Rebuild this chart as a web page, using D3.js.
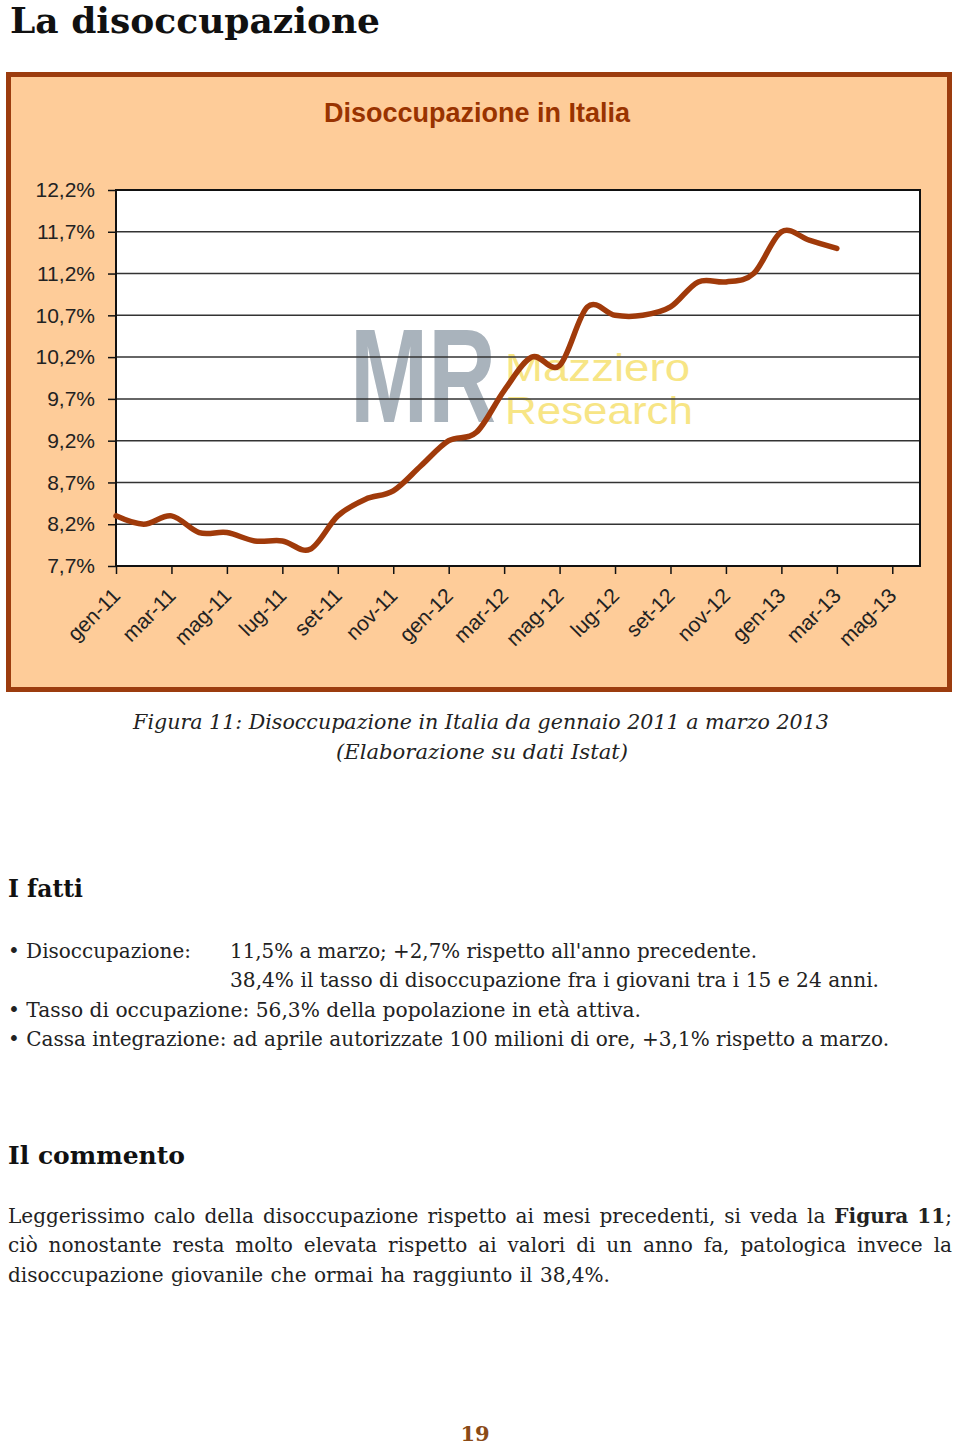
<!DOCTYPE html>
<html><head><meta charset="utf-8">
<script src="https://cdn.jsdelivr.net/npm/d3@7"></script>
<style>html,body{margin:0;padding:0;background:#fff;}svg{display:block;}</style>
</head><body>
<svg id="page" width="960" height="1450"></svg>
<script>
// ---- data ----
const months = ["gen-11","feb-11","mar-11","apr-11","mag-11","giu-11","lug-11","ago-11","set-11","ott-11","nov-11","dic-11",
  "gen-12","feb-12","mar-12","apr-12","mag-12","giu-12","lug-12","ago-12","set-12","ott-12","nov-12","dic-12",
  "gen-13","feb-13","mar-13","apr-13","mag-13","giu-13"];
const unemployment = [8.3, 8.2, 8.3, 8.1, 8.1, 8.0, 8.0, 7.9, 8.3, 8.5, 8.6, 8.9,
  9.2, 9.3, 9.8, 10.2, 10.1, 10.8, 10.7, 10.7, 10.8, 11.1, 11.1, 11.2,
  11.7, 11.6, 11.5];
const xTickLabels = ["gen-11","mar-11","mag-11","lug-11","set-11","nov-11","gen-12","mar-12","mag-12","lug-12","set-12","nov-12","gen-13","mar-13","mag-13"];
const yTickValues = [7.7, 8.2, 8.7, 9.2, 9.7, 10.2, 10.7, 11.2, 11.7, 12.2];
const yTickLabels = ["7,7%","8,2%","8,7%","9,2%","9,7%","10,2%","10,7%","11,2%","11,7%","12,2%"];

const pageTitle = "La disoccupazione";
const chartTitle = "Disoccupazione in Italia";
const captionLines = ["Figura 11: Disoccupazione in Italia da gennaio 2011 a marzo 2013", "(Elaborazione su dati Istat)"];

const svg = d3.select("#page");
const SERIF = "'DejaVu Serif', 'Liberation Serif', serif";
const SANS = "'Liberation Sans', Arial, sans-serif";

function fitWidth(sel, w) {
  const len = sel.node().getComputedTextLength();
  const fs = parseFloat(sel.attr("font-size"));
  sel.attr("font-size", (fs * w / len).toFixed(2));
  return sel;
}
function stretch(sel, w) {
  sel.attr("textLength", w).attr("lengthAdjust", "spacingAndGlyphs");
  return sel;
}

// ---- page title ----
const t0 = svg.append("text").attr("x", 10).attr("y", 33).attr("font-family", SERIF)
  .attr("font-weight", "bold").attr("font-size", 40).attr("fill", "#111").text(pageTitle);
fitWidth(t0, 370);

// ---- chart box ----
svg.append("rect").attr("x", 8.5).attr("y", 74.5).attr("width", 941).attr("height", 615)
  .attr("fill", "#fecc99").attr("stroke", "#9c3c0e").attr("stroke-width", 5);

const ct = svg.append("text").attr("x", 477).attr("y", 122).attr("text-anchor", "middle")
  .attr("font-family", SANS).attr("font-weight", "bold").attr("font-size", 26)
  .attr("fill", "#993300").text(chartTitle);
fitWidth(ct, 306);

// ---- plot ----
const L = 116, R = 920, T = 190, B = 566;
const x = d3.scaleLinear().domain([0, months.length - 1]).range([L, R]);
const y = d3.scaleLinear().domain([7.7, 12.2]).range([B, T]);

svg.append("rect").attr("x", L).attr("y", T).attr("width", R - L).attr("height", B - T).attr("fill", "#fff");

// watermark
const wm = svg.append("g");
const mr = wm.append("text").attr("font-family", SANS).attr("font-weight", "bold")
  .attr("font-size", 133).attr("fill", "#a9b3bc").text("MR");
const mrLen = mr.node().getComputedTextLength();
mr.attr("transform", `translate(350,422) scale(${(146 / mrLen).toFixed(3)},1)`);
const wm1 = wm.append("text").attr("x", 505).attr("y", 381).attr("font-family", SANS).attr("font-size", 39)
  .attr("fill", "#f6e170").attr("opacity", 0.85).text("Mazziero");
stretch(wm1, 185);
const wm2 = wm.append("text").attr("x", 505).attr("y", 424).attr("font-family", SANS).attr("font-size", 39)
  .attr("fill", "#f6e170").attr("opacity", 0.85).text("Research");
stretch(wm2, 188);

// gridlines
svg.append("g").selectAll("line").data(yTickValues.slice(1)).join("line")
  .attr("x1", L).attr("x2", R).attr("y1", d => y(d)).attr("y2", d => y(d))
  .attr("stroke", "#333").attr("stroke-width", 1.5);

// y axis
const yAxis = d3.axisLeft(y).tickValues(yTickValues).tickSize(8).tickPadding(12)
  .tickFormat((d, i) => yTickLabels[i]);
const gy = svg.append("g").attr("transform", `translate(${L},0)`).call(yAxis);
gy.select(".domain").remove();
gy.selectAll(".tick line").attr("stroke", "#111").attr("stroke-width", 1.5);
gy.selectAll(".tick text").attr("font-family", SANS).attr("font-size", 21).attr("fill", "#222").attr("x", -21);

// x axis
const xTickIdx = xTickLabels.map(l => months.indexOf(l));
const xAxis = d3.axisBottom(x).tickValues(xTickIdx).tickSize(8).tickFormat((d, i) => xTickLabels[i]);
const gx = svg.append("g").attr("transform", `translate(0,${B})`).call(xAxis);
gx.select(".domain").remove();
gx.selectAll(".tick line").attr("stroke", "#111").attr("stroke-width", 1.5);
gx.selectAll(".tick text").attr("font-family", SANS).attr("font-size", 21).attr("fill", "#222")
  .attr("text-anchor", "end").attr("dy", 0).attr("y", 0)
  .attr("transform", "translate(5,31) rotate(-45)");

// plot border
svg.append("rect").attr("x", L).attr("y", T).attr("width", R - L).attr("height", B - T)
  .attr("fill", "none").attr("stroke", "#111").attr("stroke-width", 2);

// data line
const line = d3.line().x((d, i) => x(i)).y(d => y(d)).curve(d3.curveCardinal.tension(0));
svg.append("path").datum(unemployment).attr("d", line).attr("fill", "none")
  .attr("stroke", "#a03a0a").attr("stroke-width", 5.5).attr("stroke-linecap", "round").attr("stroke-linejoin", "round");

// ---- caption ----
const cap1 = svg.append("text").attr("x", 481).attr("y", 729).attr("text-anchor", "middle").attr("font-family", SERIF)
  .attr("font-style", "italic").attr("font-size", 21).attr("fill", "#222").text(captionLines[0]);
fitWidth(cap1, 696);
const cap2 = svg.append("text").attr("x", 482).attr("y", 759).attr("text-anchor", "middle").attr("font-family", SERIF)
  .attr("font-style", "italic").attr("font-size", cap1.attr("font-size")).attr("fill", "#222").text(captionLines[1]);
stretch(cap2, 292);

// ---- headings ----
const h1 = svg.append("text").attr("x", 8).attr("y", 897).attr("font-family", SERIF).attr("font-weight", "bold")
  .attr("font-size", 26).attr("fill", "#111").text("I fatti");
fitWidth(h1, 75);
const h2 = svg.append("text").attr("x", 8).attr("y", 1164).attr("font-family", SERIF).attr("font-weight", "bold")
  .attr("font-size", 26).attr("fill", "#111").text("Il commento");
fitWidth(h2, 177);

// ---- bullets ----
const bullets = [
  {x: 8, y: 958, w: 183, t: "• Disoccupazione:"},
  {x: 230, y: 958, w: 527, t: "11,5% a marzo; +2,7% rispetto all'anno precedente."},
  {x: 230, y: 987, w: 649, t: "38,4% il tasso di disoccupazione fra i giovani tra i 15 e 24 anni."},
  {x: 8, y: 1017, w: 633, t: "• Tasso di occupazione: 56,3% della popolazione in età attiva."},
  {x: 8, y: 1046, w: 881, t: "• Cassa integrazione: ad aprile autorizzate 100 milioni di ore, +3,1% rispetto a marzo."}
];
const bodyFs0 = 20;
const bsel = svg.append("g").selectAll("text").data(bullets).join("text")
  .attr("x", d => d.x).attr("y", d => d.y).attr("font-family", SERIF).attr("font-size", bodyFs0)
  .attr("fill", "#222").text(d => d.t);
let tw = 0, mw = 0;
bsel.each(function(d) { tw += d.w; mw += this.getComputedTextLength(); });
const bodyFs = bodyFs0 * tw / mw;
bsel.attr("font-size", bodyFs).each(function(d) { stretch(d3.select(this), d.w); });

// ---- paragraph ----
const paraLines = [
  {y: 1223, just: true, words: [[["Leggerissimo",0]],[["calo",0]],[["della",0]],[["disoccupazione",0]],[["rispetto",0]],[["ai",0]],[["mesi",0]],[["precedenti,",0]],[["si",0]],[["veda",0]],[["la",0]],[["Figura",1]],[["11",1],[";",0]]]},
  {y: 1252, just: true, words: "ciò nonostante resta molto elevata rispetto ai valori di un anno fa, patologica invece la".split(" ").map(w => [[w,0]])},
  {y: 1282, just: false, w: 602, words: "disoccupazione giovanile che ormai ha raggiunto il 38,4%.".split(" ").map(w => [[w,0]])}
];
const PL = 8, PR = 952;
const pg = svg.append("g");
paraLines.forEach(ln => {
  const wordsG = ln.words.map(segs => {
    const t = pg.append("text").attr("y", ln.y).attr("font-family", SERIF).attr("font-size", bodyFs).attr("fill", "#222");
    segs.forEach(s => t.append("tspan").attr("font-weight", s[1] ? "bold" : "normal").text(s[0]));
    return t;
  });
  const widths = wordsG.map(t => t.node().getComputedTextLength());
  const sum = d3.sum(widths);
  let gap;
  if (ln.just) gap = (PR - PL - sum) / (widths.length - 1);
  else gap = (ln.w - sum) / (widths.length - 1);
  let cx = PL;
  wordsG.forEach((t, i) => { t.attr("x", cx); cx += widths[i] + gap; });
});

// ---- page number ----
svg.append("text").attr("x", 475).attr("y", 1441).attr("text-anchor", "middle").attr("font-family", SERIF)
  .attr("font-weight", "bold").attr("font-size", 21).attr("fill", "#8a4a16").text("19");
</script>
</body></html>
